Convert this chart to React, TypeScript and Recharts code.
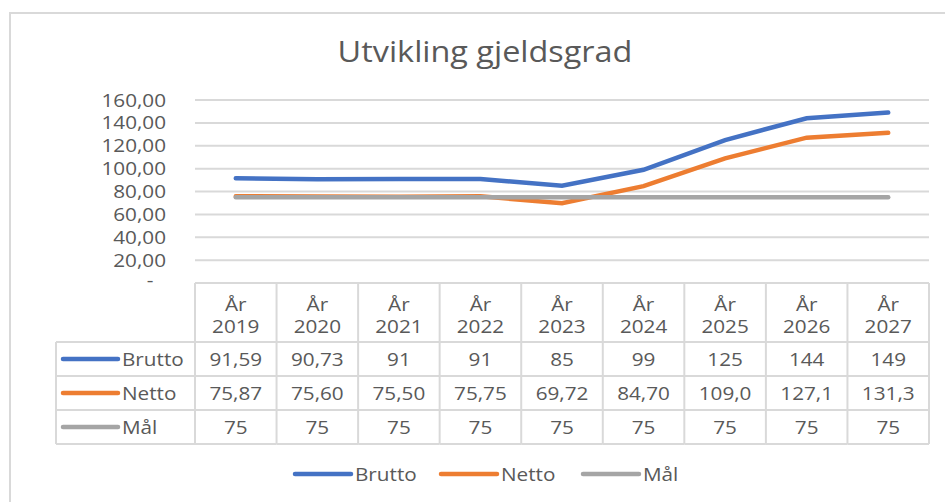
import { CartesianGrid, Line, LineChart, XAxis, YAxis } from "recharts";

const categories = ["År 2019", "År 2020", "År 2021", "År 2022", "År 2023", "År 2024", "År 2025", "År 2026", "År 2027"];
const brutto = [91.59, 90.73, 91, 91, 85, 99, 125, 144, 149];
const netto = [75.87, 75.6, 75.5, 75.75, 69.72, 84.7, 109.0, 127.1, 131.3];
const maal = [75, 75, 75, 75, 75, 75, 75, 75, 75];
const yTicks = [0, 20, 40, 60, 80, 100, 120, 140, 160];

// table cells: Brutto in general format, Netto with 4 significant digits
const general = (v: number) => (Number.isInteger(v) ? String(v) : v.toFixed(2)).replace(".", ",");
const fourDigits = (v: number) => v.toPrecision(4).replace(".", ",");

const series = [
  { key: "brutto", name: "Brutto", color: "#4472C4", values: brutto, fmt: general },
  { key: "netto", name: "Netto", color: "#ED7D31", values: netto, fmt: fourDigits },
  { key: "maal", name: "Mål", color: "#A5A5A5", values: maal, fmt: general },
];

const data = categories.map((cat, i) => ({ cat, brutto: brutto[i], netto: netto[i], maal: maal[i] }));

const W = 945;
const H = 502;
const PLOT_L = 195;
const PLOT_R = 929;
const PLOT_T = 100;
const PLOT_B = 283;
const BAND = (PLOT_R - PLOT_L) / categories.length;
const HEADER_H = 59;
const ROW_H = 34;
const LABEL_L = 56;
const TEXT = "#595959";
const BORDER = "#D9D9D9";
const FONT = "'Open Sans', sans-serif";
const SX = 1.12;

function T({ x, y, anchor = "middle", size = 18.5, children }: any) {
  return (
    <text
      transform={`translate(${x},${y}) scale(${SX},1)`}
      textAnchor={anchor}
      fill={TEXT}
      fontFamily={FONT}
      fontSize={size}
    >
      {children}
    </text>
  );
}

function YTick({ x, y, payload }: any) {
  if (payload.value === 0) return <T x={150} y={y + 4}>-</T>;
  return (
    <T x={x} y={y + 6.5} anchor="end">
      {payload.value.toFixed(2).replace(".", ",")}
    </T>
  );
}

function TableColumn({ x, y, payload, index }: any) {
  const x0 = x - BAND / 2;
  const x1 = x + BAND / 2;
  const rowTops = series.map((_, r) => y + HEADER_H + r * ROW_H);
  const bottom = y + HEADER_H + series.length * ROW_H;
  const [a, b] = String(payload.value).split(" ");
  return (
    <g>
      {index === 0 && (
        <g>
          {[...rowTops, bottom].map((ry) => (
            <line key={ry} x1={LABEL_L} x2={x0} y1={ry} y2={ry} stroke={BORDER} strokeWidth={2} />
          ))}
          <line x1={LABEL_L} x2={LABEL_L} y1={rowTops[0]} y2={bottom} stroke={BORDER} strokeWidth={2} />
          {series.map((s, r) => (
            <g key={s.key}>
              <line x1={63} x2={118} y1={rowTops[r] + ROW_H / 2} y2={rowTops[r] + ROW_H / 2} stroke={s.color} strokeWidth={4.5} strokeLinecap="round" />
              <T x={122} y={rowTops[r] + ROW_H / 2 + 6.5} anchor="start">{s.name}</T>
            </g>
          ))}
        </g>
      )}
      <line x1={x0} x2={x1} y1={y} y2={y} stroke={BORDER} strokeWidth={2} />
      {[...rowTops, bottom].map((ry) => (
        <line key={ry} x1={x0} x2={x1} y1={ry} y2={ry} stroke={BORDER} strokeWidth={2} />
      ))}
      <line x1={x0} x2={x0} y1={y} y2={bottom} stroke={BORDER} strokeWidth={2} />
      {index === categories.length - 1 && <line x1={x1} x2={x1} y1={y} y2={bottom} stroke={BORDER} strokeWidth={2} />}
      <T x={x} y={y + 28}>{a}</T>
      <T x={x} y={y + 50}>{b}</T>
      {series.map((s, r) => (
        <T key={s.key} x={x} y={rowTops[r] + ROW_H / 2 + 6.5}>
          {s.fmt(s.values[index])}
        </T>
      ))}
    </g>
  );
}

function ChartLegend() {
  const starts = [295, 441, 583];
  return (
    <svg width={W} height={40} style={{ position: "absolute", left: 0, top: 455 }}>
      {series.map((s, i) => (
        <g key={s.key}>
          <line x1={starts[i]} x2={starts[i] + 56} y1={19} y2={19} stroke={s.color} strokeWidth={4.5} strokeLinecap="round" />
          <T x={starts[i] + 60} y={26} anchor="start">{s.name}</T>
        </g>
      ))}
    </svg>
  );
}

export default function App() {
  return (
    <div style={{ position: "absolute", left: 0, top: 0, width: W, height: H, overflow: "hidden", background: "#fff" }}>
      <div style={{ position: "absolute", left: 9, top: 12, width: 1200, height: 800, borderLeft: `2.5px solid ${BORDER}`, borderTop: `2.5px solid ${BORDER}` }} />
      <svg width={W} height={80} style={{ position: "absolute", left: 0, top: 0 }}>
        <text transform={`translate(485,62) scale(1.08,1)`} textAnchor="middle" fill={TEXT} fontFamily={FONT} fontSize={30}>
          Utvikling gjeldsgrad
        </text>
      </svg>
      <div style={{ position: "absolute", left: 0, top: 0 }}>
        <LineChart width={W} height={H} data={data} margin={{ top: PLOT_T, right: W - PLOT_R, bottom: 0, left: 0 }}>
          <CartesianGrid vertical={false} stroke={BORDER} strokeWidth={2} />
          <XAxis
            dataKey="cat"
            height={H - PLOT_B}
            padding={{ left: BAND / 2, right: BAND / 2 }}
            interval={0}
            axisLine={false}
            tickLine={false}
            tickSize={0}
            tickMargin={0}
            tick={TableColumn}
          />
          <YAxis
            width={PLOT_L}
            domain={[0, 160]}
            ticks={yTicks}
            interval={0}
            axisLine={false}
            tickLine={false}
            tickSize={0}
            tickMargin={29}
            tick={YTick}
          />
          {series.map((s) => (
            <Line
              key={s.key}
              type="linear"
              dataKey={s.key}
              name={s.name}
              stroke={s.color}
              strokeWidth={4.5}
              strokeLinecap="round"
              dot={false}
              activeDot={false}
              isAnimationActive={false}
            />
          ))}
        </LineChart>
      </div>
      <ChartLegend />
    </div>
  );
}
